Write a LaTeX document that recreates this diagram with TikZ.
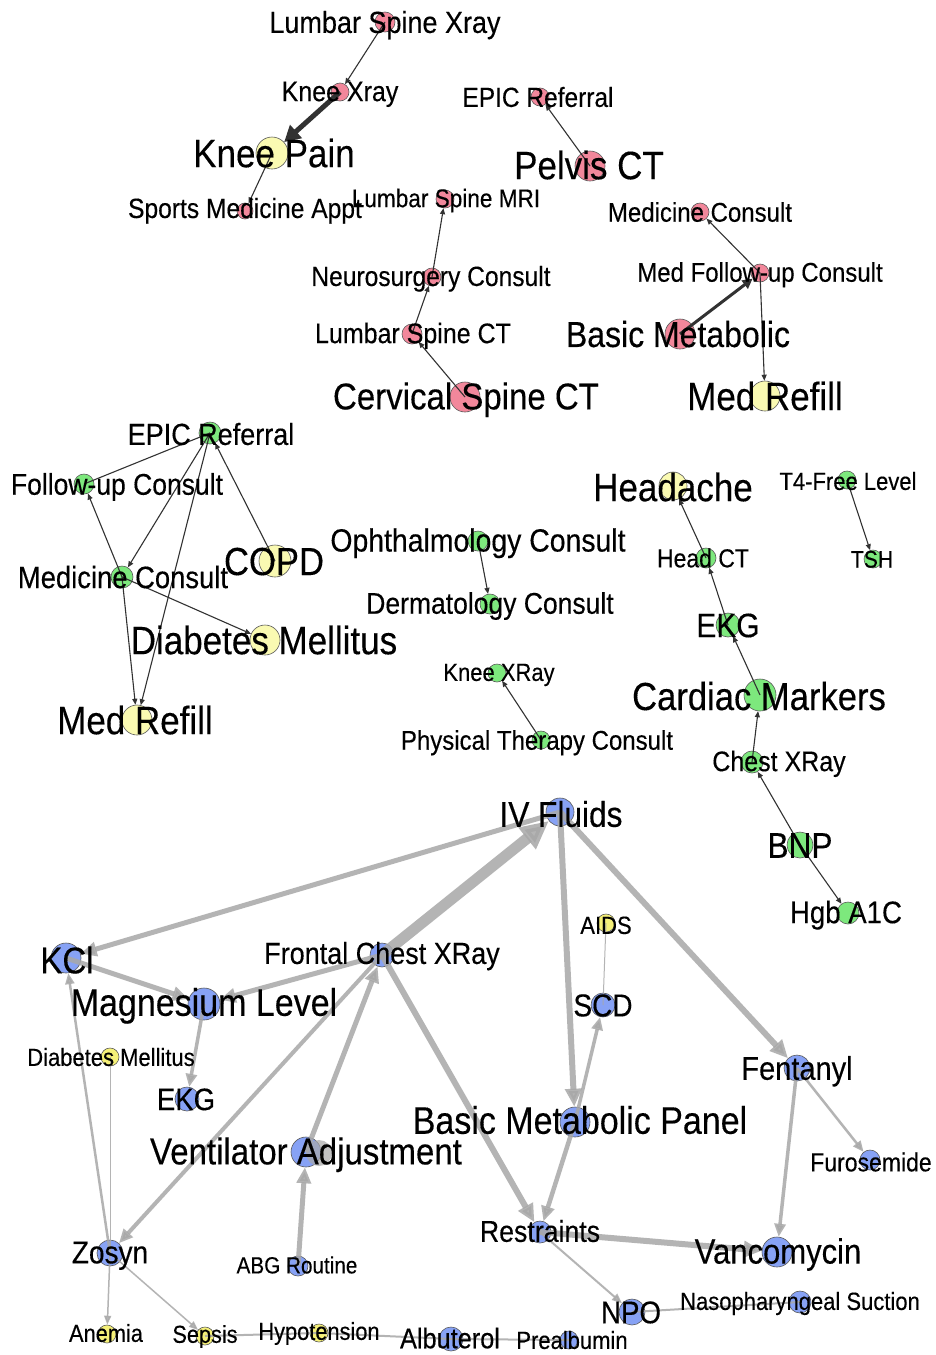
\documentclass[tikz,border=0pt]{standalone}
\usepackage{fontspec}
\setmainfont[FakeBold=0.3]{Liberation Sans}
\usetikzlibrary{arrows.meta}
\definecolor{pinkN}{RGB}{242,135,155}
\definecolor{yelN}{RGB}{250,250,178}
\definecolor{yelB}{RGB}{245,240,120}
\definecolor{greenN}{RGB}{125,232,125}
\definecolor{blueN}{RGB}{135,162,245}
\definecolor{edgeG}{RGB}{168,168,168}
\definecolor{edgeD}{RGB}{50,50,50}
\tikzset{
  vtx/.style={circle, inner sep=0pt, draw=black!65, line width=0.6pt},
  dedge/.style={draw=edgeD, line width=1.1pt, -{Triangle[length=6pt,width=5pt]}},
  dline/.style={draw=edgeD, line width=1.1pt},
  gedge/.style={draw=edgeG, line width=#1, opacity=0.85, -{Triangle[length=6pt 2,width=4pt 2]}},
  gline/.style={draw=edgeG, line width=#1, opacity=0.85},
}
\newcommand{\mkvtx}[5]{\node[vtx, fill=#5, minimum size=#4*2pt] (#1) at (#2,#3) {};}
\newcommand{\mklab}[5]{\pgfmathsetmacro\labY{#3+0.405*#4}\node[anchor=base, inner sep=0pt, font=\fontsize{#4}{#4}\selectfont] (#1) at (#2,\labY) {\scalebox{1}[1.13]{#5}};}
\begin{document}
\begin{tikzpicture}[x=1pt,y=-1pt]
\useasboundingbox (0,0) rectangle (935,1355);
\fill[white] (0,0) rectangle (935,1355);
% ---------- red group vertices
\mkvtx{r1}{385}{22}{10}{pinkN}
\mkvtx{r2}{340}{92}{9}{pinkN}
\mkvtx{r3}{272}{153}{16}{yelN}
\mkvtx{r4}{245}{211}{8}{pinkN}
\mkvtx{r5}{445}{199}{9}{pinkN}
\mkvtx{r6}{540}{97}{9}{pinkN}
\mkvtx{r7}{590}{166}{15}{pinkN}
\mkvtx{r8}{700}{212}{9}{pinkN}
\mkvtx{r9}{760}{273}{9}{pinkN}
\mkvtx{r10}{680}{334}{15}{pinkN}
\mkvtx{r11}{765}{396}{15}{yelN}
\mkvtx{r12}{432}{277}{9}{pinkN}
\mkvtx{r13}{412}{334}{10}{pinkN}
\mkvtx{r14}{465}{397}{15}{pinkN}
% ---------- green group vertices
\mkvtx{g1}{210}{433}{11}{greenN}
\mkvtx{g2}{84}{484}{10}{greenN}
\mkvtx{g3}{122}{577}{11}{greenN}
\mkvtx{g4}{275}{561}{16}{yelN}
\mkvtx{g5}{265}{640}{15}{yelN}
\mkvtx{g6}{137}{720}{15}{yelN}
\mkvtx{g7}{478}{541}{10}{greenN}
\mkvtx{g8}{490}{604}{10}{greenN}
\mkvtx{g9}{497}{673}{9}{greenN}
\mkvtx{g10}{541}{740}{9}{greenN}
\mkvtx{g11}{673}{486}{14}{yelN}
\mkvtx{g12}{706}{558}{10}{greenN}
\mkvtx{g13}{728}{625}{12}{greenN}
\mkvtx{g14}{760}{695}{16}{greenN}
\mkvtx{g15}{752}{762}{11}{greenN}
\mkvtx{g16}{800}{845}{13}{greenN}
\mkvtx{g17}{848}{913}{11}{greenN}
\mkvtx{g18}{847}{480}{9}{greenN}
\mkvtx{g19}{873}{559}{9}{greenN}
% ---------- blue group vertices
\mkvtx{b1}{560}{812}{14}{blueN}
\mkvtx{b2}{66}{958}{15}{blueN}
\mkvtx{b3}{382}{955}{12}{blueN}
\mkvtx{b4}{204}{1004}{16}{blueN}
\mkvtx{b5}{110}{1057}{9}{yelB}
\mkvtx{b6}{187}{1099}{12}{blueN}
\mkvtx{b7}{306}{1152}{15}{blueN}
\mkvtx{b8}{575}{1122}{15}{blueN}
\mkvtx{b9}{603}{1005}{12}{blueN}
\mkvtx{b10}{606}{923}{9}{yelB}
\mkvtx{b11}{797}{1068}{13}{blueN}
\mkvtx{b12}{870}{1160}{10}{blueN}
\mkvtx{b13}{110}{1253}{13}{blueN}
\mkvtx{b14}{298}{1266}{10}{blueN}
\mkvtx{b15}{540}{1232}{11}{blueN}
\mkvtx{b16}{777}{1252}{15}{blueN}
\mkvtx{b17}{632}{1312}{13}{blueN}
\mkvtx{b18}{800}{1302}{11}{blueN}
\mkvtx{b19}{107}{1334}{9}{yelB}
\mkvtx{b20}{205}{1336}{9}{yelB}
\mkvtx{b21}{319}{1333}{9}{yelB}
\mkvtx{b22}{451}{1339}{12}{blueN}
\mkvtx{b23}{569}{1340}{9}{blueN}
\node[circle, inner sep=0pt, minimum size=26pt, fill=edgeG, opacity=0.7] (b7loop) at (319,1153) {};
% ---------- red edges
\draw[dedge] (r1.center) -- (r2);
\draw[draw=edgeD, line width=5pt, -{Triangle[length=16pt,width=17pt]}] (r2.center) -- (r3);
\draw[dedge] (r3.center) -- (r4);
\draw[dedge] (r7.center) -- (r6);
\draw[dedge] (r14.center) -- (r13);
\draw[dedge] (r13.center) -- (r12);
\draw[dedge] (r12.center) -- (r5);
\draw[dedge] (r9.center) -- (r8);
\draw[draw=edgeD, line width=3pt, -{Triangle[length=10pt,width=10pt]}] (r10.center) -- (r9);
\draw[dedge] (r9.center) -- (r11);
% ---------- green edges
\draw[dline] (g1.center) -- (g2.center);
\draw[dedge] (g1.center) -- (g3);
\draw[dedge] (g1.center) -- (g6);
\draw[dedge] (g4.center) -- (g1);
\draw[dedge] (g3.center) -- (g2);
\draw[dedge] (g3.center) -- (g5);
\draw[dedge] (g3.center) -- (g6);
\draw[dedge] (g7.center) -- (g8);
\draw[dedge] (g10.center) -- (g9);
\draw[dedge] (g12.center) -- (g11);
\draw[dedge] (g13.center) -- (g12);
\draw[dedge] (g14.center) -- (g13);
\draw[dedge] (g15.center) -- (g14);
\draw[dedge] (g16.center) -- (g15);
\draw[dedge] (g16.center) -- (g17);
\draw[dedge] (g18.center) -- (g19);
% ---------- blue edges
\draw[gedge=11pt] (b3.center) -- (b1);
\draw[gedge=5pt] (b1.center) -- (b2);
\draw[gedge=6pt] (b1.center) -- (b8);
\draw[gedge=6pt] (b1.center) -- (b11);
\draw[gedge=5pt] (b2.center) -- (b4);
\draw[gedge=5pt] (b3.center) -- (b4);
\draw[gedge=3.5pt] (b4.center) -- (b6);
\draw[gedge=4pt] (b3.center) -- (b13);
\draw[gedge=5pt] (b7.center) -- (b3);
\draw[gedge=6pt] (b3.center) -- (b15);
\draw[gedge=5pt] (b14.center) -- (b7);
\draw[gedge=2.5pt] (b13.center) -- (b2);
\draw[gline=1pt] (b5.center) -- (b13.center);
\draw[gedge=1.5pt] (b13.center) -- (b19);
\draw[gedge=1.5pt] (b13.center) -- (b20);
\draw[gline=2pt] (b20.center) -- (b21.center);
\draw[gline=2pt] (b21.center) -- (b22.center);
\draw[gline=2pt] (b22.center) -- (b23.center);
\draw[gedge=3.5pt] (b8.center) -- (b9);
\draw[gline=1pt] (b9.center) -- (b10.center);
\draw[gedge=4.5pt] (b8.center) -- (b15);
\draw[gedge=6pt] (b15.center) -- (b16);
\draw[gedge=2pt] (b15.center) -- (b17);
\draw[gline=2pt] (b17.center) -- (b18.center);
\draw[gedge=3.5pt] (b11.center) -- (b16);
\draw[gedge=2.5pt] (b11.center) -- (b12);
% ---------- labels red
\mklab{tr1}{385}{22}{27}{Lumbar Spine Xray}
\mklab{tr2}{340}{91}{25}{Knee Xray}
\mklab{tr3}{274}{153}{35}{Knee Pain}
\mklab{tr4}{245}{208}{24.6}{Sports Medicine Appt}
\mklab{tr5}{446}{198}{22.6}{Lumbar Spine MRI}
\mklab{tr6}{538}{97}{24.5}{EPIC Referral}
\mklab{tr7}{589}{165}{35}{Pelvis CT}
\mklab{tr8}{700}{212}{24}{Medicine Consult}
\mklab{tr9}{760}{272}{24}{Med Follow-up Consult}
\mklab{tr10}{678}{334}{32}{Basic Metabolic}
\mklab{tr11}{765}{396}{35}{Med Refill}
\mklab{tr12}{431}{276}{24.6}{Neurosurgery Consult}
\mklab{tr13}{413}{333}{25}{Lumbar Spine CT}
\mklab{tr14}{466}{396}{33}{Cervical Spine CT}
% ---------- labels green
\mklab{tg1}{211}{434}{27}{EPIC Referral}
\mklab{tg2}{117}{484}{26.5}{Follow-up Consult}
\mklab{tg3}{123}{577}{27.4}{Medicine Consult}
\mklab{tg4}{274}{561}{34.6}{COPD}
\mklab{tg5}{264}{640}{35}{Diabetes Mellitus}
\mklab{tg6}{135}{720}{35}{Med Refill}
\mklab{tg7}{478}{540}{28.4}{Ophthalmology Consult}
\mklab{tg8}{490}{603}{26.5}{Dermatology Consult}
\mklab{tg9}{499}{672}{22}{Knee XRay}
\mklab{tg10}{537}{740}{24}{Physical Therapy Consult}
\mklab{tg11}{673}{487}{35}{Headache}
\mklab{tg12}{703}{558}{23}{Head CT}
\mklab{tg13}{728}{625}{30}{EKG}
\mklab{tg14}{759}{696}{34.6}{Cardiac Markers}
\mklab{tg15}{779}{761}{25}{Chest XRay}
\mklab{tg16}{800}{845}{31.6}{BNP}
\mklab{tg17}{846}{912}{27.6}{Hgb A1C}
\mklab{tg18}{848}{481}{22}{T4-Free Level}
\mklab{tg19}{872}{559}{21}{TSH}
% ---------- labels blue
\mklab{tb1}{561}{814}{31.6}{IV Fluids}
\mklab{tb2}{67}{960}{33}{KCl}
\mklab{tb3}{382}{953}{27}{Frontal Chest XRay}
\mklab{tb4}{204}{1002}{34}{Magnesium Level}
\mklab{tb5}{111}{1057}{22}{Diabetes Mellitus}
\mklab{tb6}{186}{1099}{27.5}{EKG}
\mklab{tb7}{306}{1151}{33}{Ventilator Adjustment}
\mklab{tb8}{580}{1120}{34}{Basic Metabolic Panel}
\mklab{tb9}{603}{1005}{28}{SCD}
\mklab{tb10}{606}{925}{22}{AIDS}
\mklab{tb11}{797}{1068}{29}{Fentanyl}
\mklab{tb12}{871}{1162}{23}{Furosemide}
\mklab{tb13}{110}{1252}{28}{Zosyn}
\mklab{tb14}{297}{1265}{20.7}{ABG Routine}
\mklab{tb15}{540}{1231}{26.7}{Restraints}
\mklab{tb16}{778}{1251}{31}{Vancomycin}
\mklab{tb17}{631}{1312}{27.7}{NPO}
\mklab{tb18}{800}{1301}{22}{Nasopharyngeal Suction}
\mklab{tb19}{106}{1333}{21.8}{Anemia}
\mklab{tb20}{205}{1334}{21.7}{Sepsis}
\mklab{tb21}{319}{1331}{21.8}{Hypotension}
\mklab{tb22}{450}{1338}{25.3}{Albuterol}
\mklab{tb23}{572}{1340}{22}{Prealbumin}
\end{tikzpicture}
\end{document}
